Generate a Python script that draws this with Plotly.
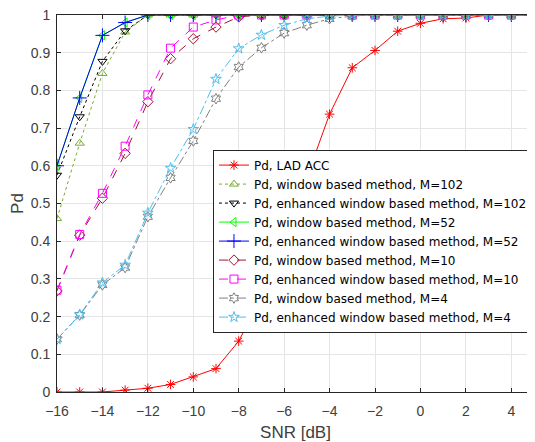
import plotly.graph_objects as go

snr = list(range(-16, 6))

pd_lad = [0, 0, 0, 0.005, 0.01, 0.02, 0.04, 0.062, 0.135, 0.25, 0.41, 0.57, 0.737, 0.86, 0.906, 0.957, 0.978, 0.99, 0.992, 1, 1, 1]
pd_w102 = [0.46, 0.66, 0.845, 0.955, 1, 1, 1, 1, 1, 1, 1, 1, 1, 1, 1, 1, 1, 1, 1, 1, 1, 1]
pd_e102 = [0.575, 0.73, 0.877, 0.958, 1, 1, 1, 1, 1, 1, 1, 1, 1, 1, 1, 1, 1, 1, 1, 1, 1, 1]
pd_w52 = [0.6, 0.78, 0.946, 0.98, 1, 1, 1, 1, 1, 1, 1, 1, 1, 1, 1, 1, 1, 1, 1, 1, 1, 1]
pd_e52 = [0.6, 0.78, 0.946, 0.98, 1, 1, 1, 1, 1, 1, 1, 1, 1, 1, 1, 1, 1, 1, 1, 1, 1, 1]
pd_w10 = [0.268, 0.416, 0.514, 0.633, 0.77, 0.884, 0.937, 0.968, 0.995, 1, 1, 1, 1, 1, 1, 1, 1, 1, 1, 1, 1, 1]
pd_e10 = [0.27, 0.418, 0.527, 0.652, 0.788, 0.912, 0.968, 0.987, 1, 1, 1, 1, 1, 1, 1, 1, 1, 1, 1, 1, 1, 1]
pd_w4 = [0.14, 0.204, 0.284, 0.33, 0.465, 0.568, 0.666, 0.778, 0.862, 0.913, 0.952, 0.973, 0.99, 0.997, 1, 1, 1, 1, 1, 1, 1, 1]
pd_e4 = [0.14, 0.205, 0.29, 0.337, 0.475, 0.594, 0.697, 0.83, 0.911, 0.947, 0.973, 0.99, 0.997, 1, 1, 1, 1, 1, 1, 1, 1, 1]

names = [
    "Pd, LAD ACC",
    "Pd, window based method, M=102",
    "Pd, enhanced window based method, M=102",
    "Pd, window based method, M=52",
    "Pd, enhanced window based method, M=52",
    "Pd, window based method, M=10",
    "Pd, enhanced window based method, M=10",
    "Pd, window based method, M=4",
    "Pd, enhanced window based method, M=4",
]
series = [pd_lad, pd_w102, pd_e102, pd_w52, pd_e52, pd_w10, pd_e10, pd_w4, pd_e4]
colors = ["#FF0000", "#77AC30", "#000000", "#00FF00", "#0000FF", "#A2142F", "#FF00FF", "#808080", "#4DBEEE"]
dashes = ["solid", "dot", "dot", "solid", "solid", "dash", "dash", "dashdot", "dashdot"]
symbols = ["asterisk-open", "triangle-up-open", "triangle-down-open", "triangle-left-open",
           "cross-thin-open", "diamond-open", "square-open", "hexagram-open", "star-open"]
sizes = [8, 8, 8, 8, 10, 8, 8, 8, 8]

fig = go.Figure()
for name, ys, c, d, s, sz in zip(names, series, colors, dashes, symbols, sizes):
    fig.add_trace(go.Scatter(
        x=snr, y=ys, name=name, mode="lines+markers",
        line=dict(color=c, width=1, dash=d),
        marker=dict(symbol=s, size=sz, color=c, line=dict(color=c, width=1)),
    ))

axis_font = dict(family="Liberation Sans, Arial, sans-serif", size=14, color="#404040")
fig.update_layout(
    width=527, height=434,
    margin=dict(l=49, r=1, t=7, b=50, autoexpand=False),
    paper_bgcolor="white", plot_bgcolor="white",
    font=axis_font,
    showlegend=True,
    legend=dict(
        x=0.327, y=0.643, xanchor="left", yanchor="top",
        bgcolor="white", bordercolor="#262626", borderwidth=1,
        font=dict(family="DejaVu Sans, sans-serif", size=12, color="#000000"),
        tracegroupgap=0, itemwidth=30,
    ),
)
fig.update_xaxes(
    range=[-16, 5], tickmode="array", tickvals=list(range(-16, 5, 2)),
    showgrid=True, gridcolor="#E5E5E5", gridwidth=1, zeroline=False,
    showline=True, mirror="allticks", linecolor="#262626", linewidth=1,
    ticks="inside", ticklen=4, tickcolor="#262626", ticklabelstandoff=6,
    ticklabeloverflow="allow",
    title=dict(text="SNR [dB]", standoff=9), tickfont=axis_font,
)
fig.update_yaxes(
    range=[0, 1], tickmode="array", tickvals=[i / 10 for i in range(11)],
    ticktext=["0", "0.1", "0.2", "0.3", "0.4", "0.5", "0.6", "0.7", "0.8", "0.9", "1"],
    showgrid=True, gridcolor="#E5E5E5", gridwidth=1, zeroline=False,
    showline=True, mirror="allticks", linecolor="#262626", linewidth=1,
    ticks="inside", ticklen=4, tickcolor="#262626", ticklabelstandoff=3,
    ticklabeloverflow="allow",
    title=dict(text="Pd", standoff=8), tickfont=axis_font,
)
fig.write_html("out.html")
